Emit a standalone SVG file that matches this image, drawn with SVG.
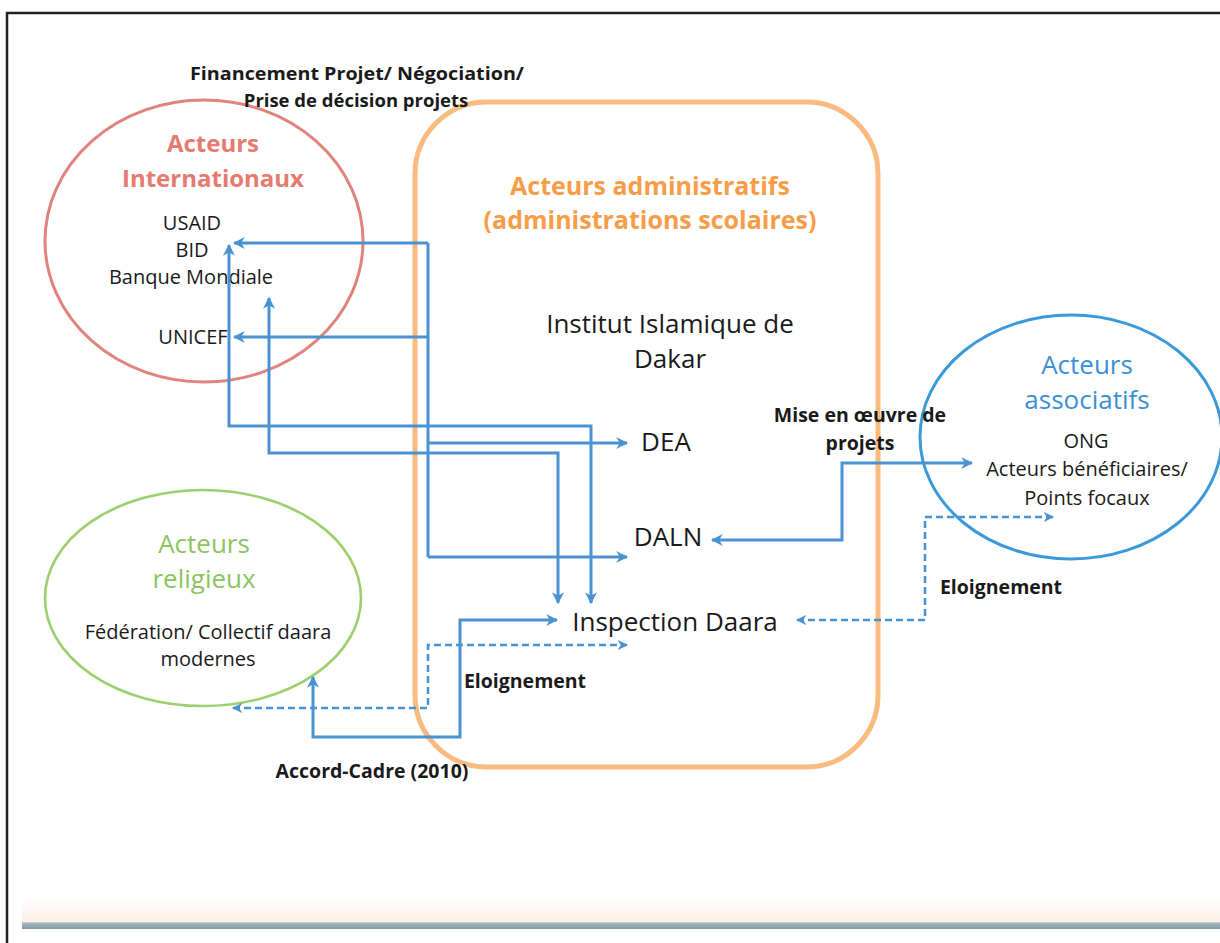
<svg xmlns="http://www.w3.org/2000/svg" width="1220" height="943" viewBox="0 0 1220 943">
<style>
.t{font-family:"Open Sans","Liberation Sans",sans-serif;text-anchor:middle;fill:#1a1a1a}
.b{font-weight:bold;font-size:19.5px}
.s{font-size:20px}
.l{font-size:26px}
.h{font-size:24px;font-weight:bold}
.o{font-size:25px;font-weight:bold;fill:#f79d47}
.c{fill:none;stroke:#4a93d2;stroke-width:3;stroke-linejoin:miter}
.d{stroke-dasharray:7 4;stroke-width:2.6}
</style>
<defs>
<marker id="ah" viewBox="0 0 10 10" refX="9" refY="5" markerWidth="4" markerHeight="4" orient="auto-start-reverse" markerUnits="strokeWidth">
<path d="M0,0 L10,5 L0,10 L3,5 Z" fill="#4a93d2"/>
</marker>
<linearGradient id="bar" x1="0" y1="0" x2="0" y2="1">
<stop offset="0" stop-color="#ffffff"/>
<stop offset="0.75" stop-color="#fdeee6"/>
<stop offset="0.8" stop-color="#a9b8c2"/>
<stop offset="1" stop-color="#7f97a6"/>
</linearGradient>
</defs>
<rect width="1220" height="943" fill="#ffffff"/>
<path d="M7,943 V13 H1220" fill="none" stroke="#222" stroke-width="2.5"/>
<rect x="22" y="899" width="1198" height="30" fill="url(#bar)"/>

<g id="intl">
<ellipse cx="204" cy="241" rx="159" ry="141" fill="none" stroke="#e0837c" stroke-width="3"/>
<text class="t h" x="213" y="152" style="fill:#e57a6f">Acteurs</text>
<text class="t h" x="213" y="187" style="fill:#e57a6f">Internationaux</text>
<text class="t s" x="192" y="230">USAID</text>
<text class="t s" x="192" y="257">BID</text>
<text class="t s" x="191" y="284">Banque Mondiale</text>
<text class="t s" x="193" y="344">UNICEF</text>
</g>

<g id="admin">
<rect x="415" y="102" width="463" height="665" rx="72" fill="none" stroke="#f9bb7f" stroke-width="5"/>
<text class="t o" x="650" y="195">Acteurs administratifs</text>
<text class="t o" x="650" y="229">(administrations scolaires)</text>
<text class="t l" x="670" y="333">Institut Islamique de</text>
<text class="t l" x="670" y="368">Dakar</text>
</g>
<g id="dea"><text class="t l" x="666" y="451">DEA</text></g>
<g id="daln"><text class="t l" x="668" y="546">DALN</text></g>
<g id="inspection"><text class="t l" x="675" y="631">Inspection Daara</text></g>

<g id="assoc">
<ellipse cx="1071" cy="437" rx="151" ry="122" fill="none" stroke="#3a9ad9" stroke-width="3"/>
<text class="t l" x="1087" y="374" style="fill:#3a8fd6">Acteurs</text>
<text class="t l" x="1087" y="409" style="fill:#3a8fd6">associatifs</text>
<text class="t s" x="1086" y="448">ONG</text>
<text class="t s" x="1087" y="476">Acteurs bénéficiaires/</text>
<text class="t s" x="1087" y="505">Points focaux</text>
</g>

<g id="relig">
<ellipse cx="203" cy="598" rx="158" ry="108" fill="none" stroke="#9ccf70" stroke-width="2.6"/>
<text class="t l" x="204" y="553" style="fill:#8cc45e">Acteurs</text>
<text class="t l" x="204" y="588" style="fill:#8cc45e">religieux</text>
<text class="t s" x="208" y="639">Fédération/ Collectif daara</text>
<text class="t s" x="208" y="666">modernes</text>
</g>

<g id="labels">
<text class="t b" x="357" y="80" style="font-size:18.5px" textLength="334" lengthAdjust="spacingAndGlyphs">Financement Projet/ Négociation/</text>
<text class="t b" x="356" y="107" style="font-size:18.5px">Prise de décision projets</text>
<text class="t b" x="860" y="422">Mise en œuvre de</text>
<text class="t b" x="860" y="450">projets</text>
<text class="t b" x="1001" y="594">Eloignement</text>
<text class="t b" x="525" y="688">Eloignement</text>
<text class="t b" x="372" y="778">Accord-Cadre (2010)</text>
</g>

<g id="connectors">
<path class="c" d="M428,243 V557" />
<path class="c" d="M428,243 H234" marker-end="url(#ah)"/>
<path class="c" d="M428,337 H234" marker-end="url(#ah)"/>
<path class="c" d="M428,443 H627" marker-end="url(#ah)"/>
<path class="c" d="M428,557 H627" marker-end="url(#ah)"/>
<path class="c" d="M229,245 V426 H591 V603" marker-start="url(#ah)" marker-end="url(#ah)"/>
<path class="c" d="M269,298 V453 H558 V603" marker-start="url(#ah)" marker-end="url(#ah)"/>
<path class="c" d="M712,540 H842 V463 H972" marker-start="url(#ah)" marker-end="url(#ah)"/>
<path class="c d" d="M797,620 H925 V517 H1053" marker-start="url(#ah)" marker-end="url(#ah)"/>
<path class="c" d="M313,677 V737 H460 V620 H557" marker-start="url(#ah)" marker-end="url(#ah)"/>
<path class="c d" d="M233,708 H428 V645 H627" marker-start="url(#ah)" marker-end="url(#ah)"/>
</g>
</svg>
